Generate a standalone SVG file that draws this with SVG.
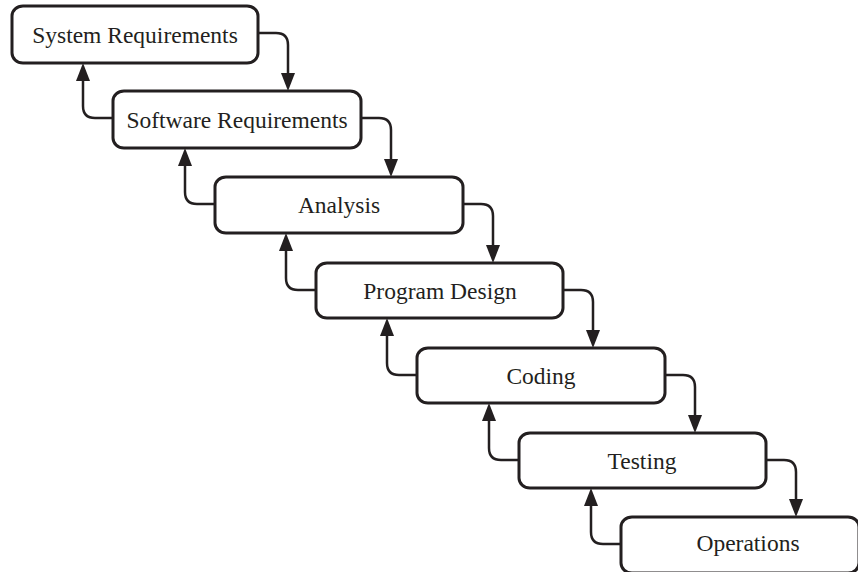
<svg xmlns="http://www.w3.org/2000/svg" width="858" height="572" viewBox="0 0 858 572">
  <style>
    .box { fill: #ffffff; stroke: #231f20; stroke-width: 3; }
    .lbl { font-family: "Liberation Serif", "Times New Roman", serif; font-size: 23.5px; fill: #231f20; text-anchor: middle; }
    .conn { fill: none; stroke: #231f20; stroke-width: 2.5; marker-end: url(#ah); }
  </style>
  <defs>
    <marker id="ah" viewBox="0 0 18 14" markerWidth="18" markerHeight="14" refX="8" refY="7" orient="auto" markerUnits="userSpaceOnUse">
      <path d="M0,0 L18,7 L0,14 Z" fill="#231f20"/>
    </marker>
  </defs>
  <rect width="858" height="572" fill="#ffffff"/>

  <g id="n1">
    <rect class="box" x="12" y="6" width="246" height="57" rx="11" ry="10"/>
    <text class="lbl" x="135" y="43">System Requirements</text>
  </g>
  <g id="n2">
    <rect class="box" x="113" y="91" width="248" height="57" rx="11" ry="10"/>
    <text class="lbl" x="237" y="128">Software Requirements</text>
  </g>
  <g id="n3">
    <rect class="box" x="215" y="177" width="248" height="56" rx="11" ry="10"/>
    <text class="lbl" x="339" y="213">Analysis</text>
  </g>
  <g id="n4">
    <rect class="box" x="316" y="263" width="247" height="55" rx="11" ry="10"/>
    <text class="lbl" x="440" y="299">Program Design</text>
  </g>
  <g id="n5">
    <rect class="box" x="417" y="348" width="248" height="55" rx="11" ry="10"/>
    <text class="lbl" x="541" y="384">Coding</text>
  </g>
  <g id="n6">
    <rect class="box" x="519" y="433" width="247" height="55" rx="11" ry="10"/>
    <text class="lbl" x="642" y="469">Testing</text>
  </g>
  <g id="n7">
    <rect class="box" x="621" y="517" width="238" height="56" rx="11" ry="10"/>
    <text class="lbl" x="748" y="551">Operations</text>
  </g>

  <g id="connectors">
    <path class="conn" d="M258,33 H276 Q288,33 288,45 V81"/>
    <path class="conn" d="M361,118 H379 Q391,118 391,130 V167"/>
    <path class="conn" d="M463,204 H481 Q493,204 493,216 V253"/>
    <path class="conn" d="M563,290 H581 Q593,290 593,302 V338"/>
    <path class="conn" d="M665,375 H683 Q695,375 695,387 V423"/>
    <path class="conn" d="M766,460 H784 Q796,460 796,472 V507"/>

    <path class="conn" d="M113,118 H95 Q83,118 83,106 V73"/>
    <path class="conn" d="M215,204 H197 Q185,204 185,192 V158"/>
    <path class="conn" d="M316,290 H298 Q286,290 286,278 V243"/>
    <path class="conn" d="M417,375 H399 Q387,375 387,363 V328"/>
    <path class="conn" d="M519,460 H501 Q489,460 489,448 V413"/>
    <path class="conn" d="M621,544 H603 Q591,544 591,532 V498"/>
  </g>
</svg>
